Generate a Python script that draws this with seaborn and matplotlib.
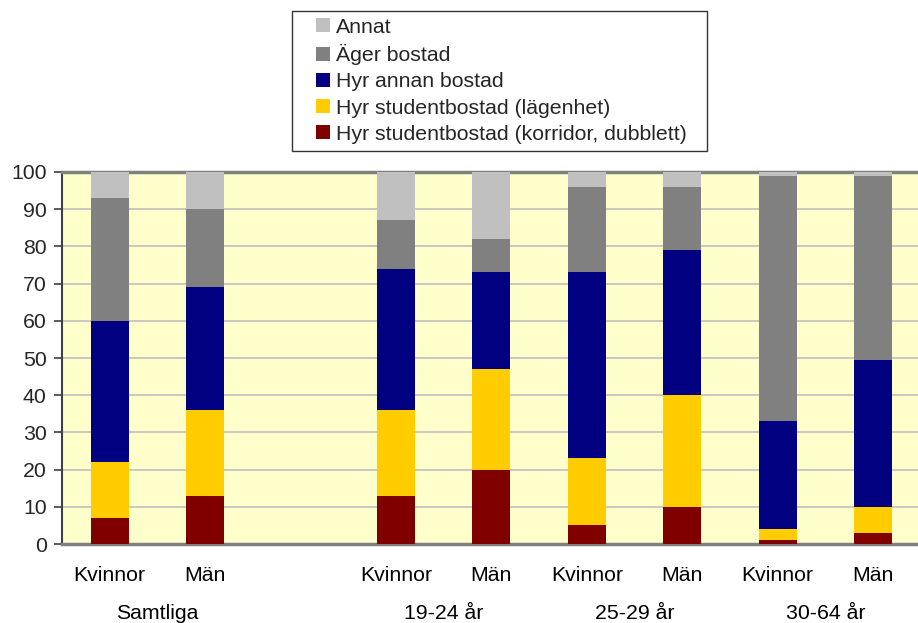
import matplotlib
matplotlib.use("Agg")
import matplotlib.pyplot as plt
import seaborn as sns
import pandas as pd
import numpy as np
from matplotlib.patches import Patch, Rectangle
from matplotlib.legend_handler import HandlerBase

sns.set_theme(style="white")
plt.rcParams['font.family'] = ['Liberation Sans', 'DejaVu Sans']

# Data
slots = ["S_K", "S_M", "gap", "A_K", "A_M", "B_K", "B_M", "C_K", "C_M"]
tick_labels = ["Kvinnor", "Män", "", "Kvinnor", "Män", "Kvinnor", "Män", "Kvinnor", "Män"]
groups = ["Samtliga", "19-24 år", "25-29 år", "30-64 år"]
bar_slots = ["S_K", "S_M", "A_K", "A_M", "B_K", "B_M", "C_K", "C_M"]

series = ["Hyr studentbostad (korridor, dubblett)", "Hyr studentbostad (lägenhet)",
          "Hyr annan bostad", "Äger bostad", "Annat"]
korridor = [7, 13, 13, 20, 5, 10, 1, 3]
lagenhet = [15, 23, 23, 27, 18, 30, 3, 7]
annan = [38, 33, 38, 26, 50, 39, 29, 39.5]
ager = [33, 21, 13, 9, 23, 17, 66, 49.5]
annat = [7, 10, 13, 18, 4, 4, 1, 1]
colors = ["#800000", "#FFCC00", "#000080", "#808080", "#C0C0C0"]

vals = np.array([korridor, lagenhet, annan, ager, annat], dtype=float)
cum = np.cumsum(vals, axis=0)

FS = 15.3

fig = plt.figure(figsize=(9.18, 6.23), dpi=100)
ax = fig.add_axes([62/918, (623-544)/623, (918-62)/918 + 0.003, 372/623])
ax.set_facecolor("#FFFFCC")

for i in range(len(series) - 1, -1, -1):
    df = pd.DataFrame({"slot": bar_slots, "value": cum[i]})
    sns.barplot(data=df, x="slot", y="value", order=slots, color=colors[i],
                saturation=1, width=0.4, ax=ax, linewidth=0, errorbar=None, zorder=3)

ax.set_ylim(0, 100)
ax.set_yticks(range(0, 101, 10))
ax.yaxis.grid(True, color="#C0C0C0", linewidth=1.2, zorder=0)
ax.set_axisbelow(True)
ax.set_xlabel("")
ax.set_ylabel("")
ax.set_xticks(range(len(slots)))
ax.set_xticklabels(tick_labels)
ax.tick_params(axis="x", length=0, pad=15.5, labelsize=FS, colors="black")
ax.tick_params(axis="y", left=True, length=6, width=1.2, color="#404040",
               labelsize=FS, pad=5, direction="out")

for s in ["top", "bottom"]:
    ax.spines[s].set_color("#808080")
    ax.spines[s].set_linewidth(2.5)
ax.spines["left"].set_color("#404040")
ax.spines["left"].set_linewidth(1.5)
ax.spines["right"].set_visible(False)

# group labels
group_centers = [0.5, 3.5, 5.5, 7.5]
for g, c in zip(groups, group_centers):
    ax.text(c, -0.16, g, transform=ax.get_xaxis_transform(), ha="center",
            va="top", fontsize=FS, color="black")


class SquareHandler(HandlerBase):
    def create_artists(self, legend, orig_handle, xdescent, ydescent, width, height, fontsize, trans):
        side = 0.65 * fontsize
        r = Rectangle((-xdescent + width - side, -ydescent + (height - side) / 2), side, side,
                      facecolor=orig_handle.get_facecolor(), edgecolor="none", transform=trans)
        return [r]


handles = [Patch(facecolor=colors[i], edgecolor="none", label=series[i])
           for i in range(len(series) - 1, -1, -1)]
leg = fig.legend(handles=handles, loc="upper left",
                 bbox_to_anchor=(292/918, 1 - 11/623, 415/918, 0.0), mode="expand",
                 frameon=True, fancybox=False, fontsize=FS, handlelength=1.45,
                 handleheight=0.7, handletextpad=0.3, labelspacing=0.34,
                 borderpad=0.32, borderaxespad=0,
                 handler_map={Patch: SquareHandler()})
leg.get_frame().set_edgecolor("black")
leg.get_frame().set_linewidth(1.0)

fig.savefig("out.png", dpi=100, facecolor="white")
